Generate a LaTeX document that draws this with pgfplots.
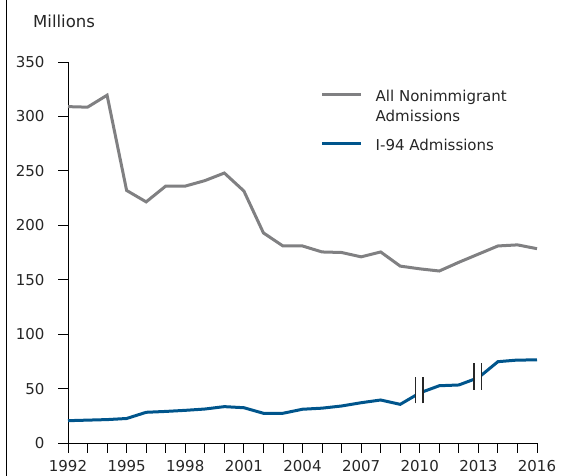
\documentclass[border=0pt]{standalone}
\usepackage{pgfplots}
\pgfplotsset{compat=1.18}
\usepackage{fontspec}
\setmainfont{DejaVu Sans}
\definecolor{allgray}{RGB}{128,128,130}
\definecolor{i94blue}{RGB}{0,85,140}
\begin{document}
\begin{tikzpicture}
\path[use as bounding box] (-68pt,-33pt) rectangle (500pt,443pt);
\draw[black, line width=0.8pt] (-61.5pt,-33pt) -- (-61.5pt,443pt);
\node[anchor=base west, inner sep=0pt, font=\fontsize{16.5}{19}\selectfont, text=black!85] at (-35pt,415pt) {Millions};
\begin{axis}[
  scale only axis, width=469pt, height=381pt,
  xmin=1992, xmax=2016, ymin=0, ymax=350,
  axis x line*=bottom, axis y line*=left,
  axis line style={-, line width=0.8pt, black},
  tick style={line width=0.8pt, black},
  tick align=outside,
  major tick length=10pt, minor tick length=10pt,
  xtick={1992,1995,...,2016}, minor xtick={1992,...,2016},
  ytick={0,50,...,350},
  /pgf/number format/1000 sep={},
  /pgf/number format/assume math mode=true,
  ticklabel style={font=\fontsize{15}{18}\selectfont, text=black!85},
  yticklabel style={xshift=-10pt},
  xticklabel style={yshift=-4pt},
  clip=false,
  legend style={draw=none, fill=none, inner sep=0pt, outer sep=0pt,
    at={(axis description cs:0.5388,0.927)}, anchor=north west,
    font=\fontsize{15}{18}\selectfont, text=black!85,
    nodes={inner sep=0pt, anchor=base west},
    cells={anchor=base west, inner sep=0pt},
    column sep=13.4pt, row sep=7.7pt},
  legend image code/.code={\draw[#1] (0pt,7pt) -- (38.6pt,7pt);},
]
\addplot[allgray, line width=3pt] coordinates {
(1992,309) (1993,308.5) (1994,319.5) (1995,232) (1996,221.5) (1997,236)
(1998,236) (1999,241) (2000,248) (2001,231.5) (2002,193) (2003,181)
(2004,181) (2005,175.5) (2006,175) (2007,171) (2008,175.5) (2009,162.5)
(2010,160) (2011,158) (2012,166) (2013,173.5) (2014,181) (2015,182) (2016,178.5)
};
\addlegendentry{All Nonimmigrant}
\addlegendimage{empty legend}
\addlegendentry{Admissions}
\addplot[i94blue, line width=3pt] coordinates {
(1992,20.5) (1993,21) (1994,21.5) (1995,22.5) (1996,28.2) (1997,29)
(1998,30) (1999,31.2) (2000,33.4) (2001,32.4) (2002,27.3) (2003,27.3)
(2004,31) (2005,32) (2006,34) (2007,37) (2008,39.5) (2009,35.5)
(2010,46) (2011,52.6) (2012,53.3) (2013,60) (2014,74.7) (2015,76.2) (2016,76.3)
};
\addlegendentry{\rule{0pt}{19pt}I-94 Admissions}
% series breaks
\fill[white] (axis cs:2009.79,36.5) rectangle (axis cs:2010.18,60.9);
\draw[black!85, line width=1.6pt] (axis cs:2009.79,36.5) -- (axis cs:2009.79,60.9);
\draw[black!85, line width=1.6pt] (axis cs:2010.18,36.5) -- (axis cs:2010.18,60.9);
\fill[white] (axis cs:2012.78,48.7) rectangle (axis cs:2013.17,73.2);
\draw[black!85, line width=1.6pt] (axis cs:2012.78,48.7) -- (axis cs:2012.78,73.2);
\draw[black!85, line width=1.6pt] (axis cs:2013.17,48.7) -- (axis cs:2013.17,73.2);
\end{axis}
\end{tikzpicture}
\end{document}
